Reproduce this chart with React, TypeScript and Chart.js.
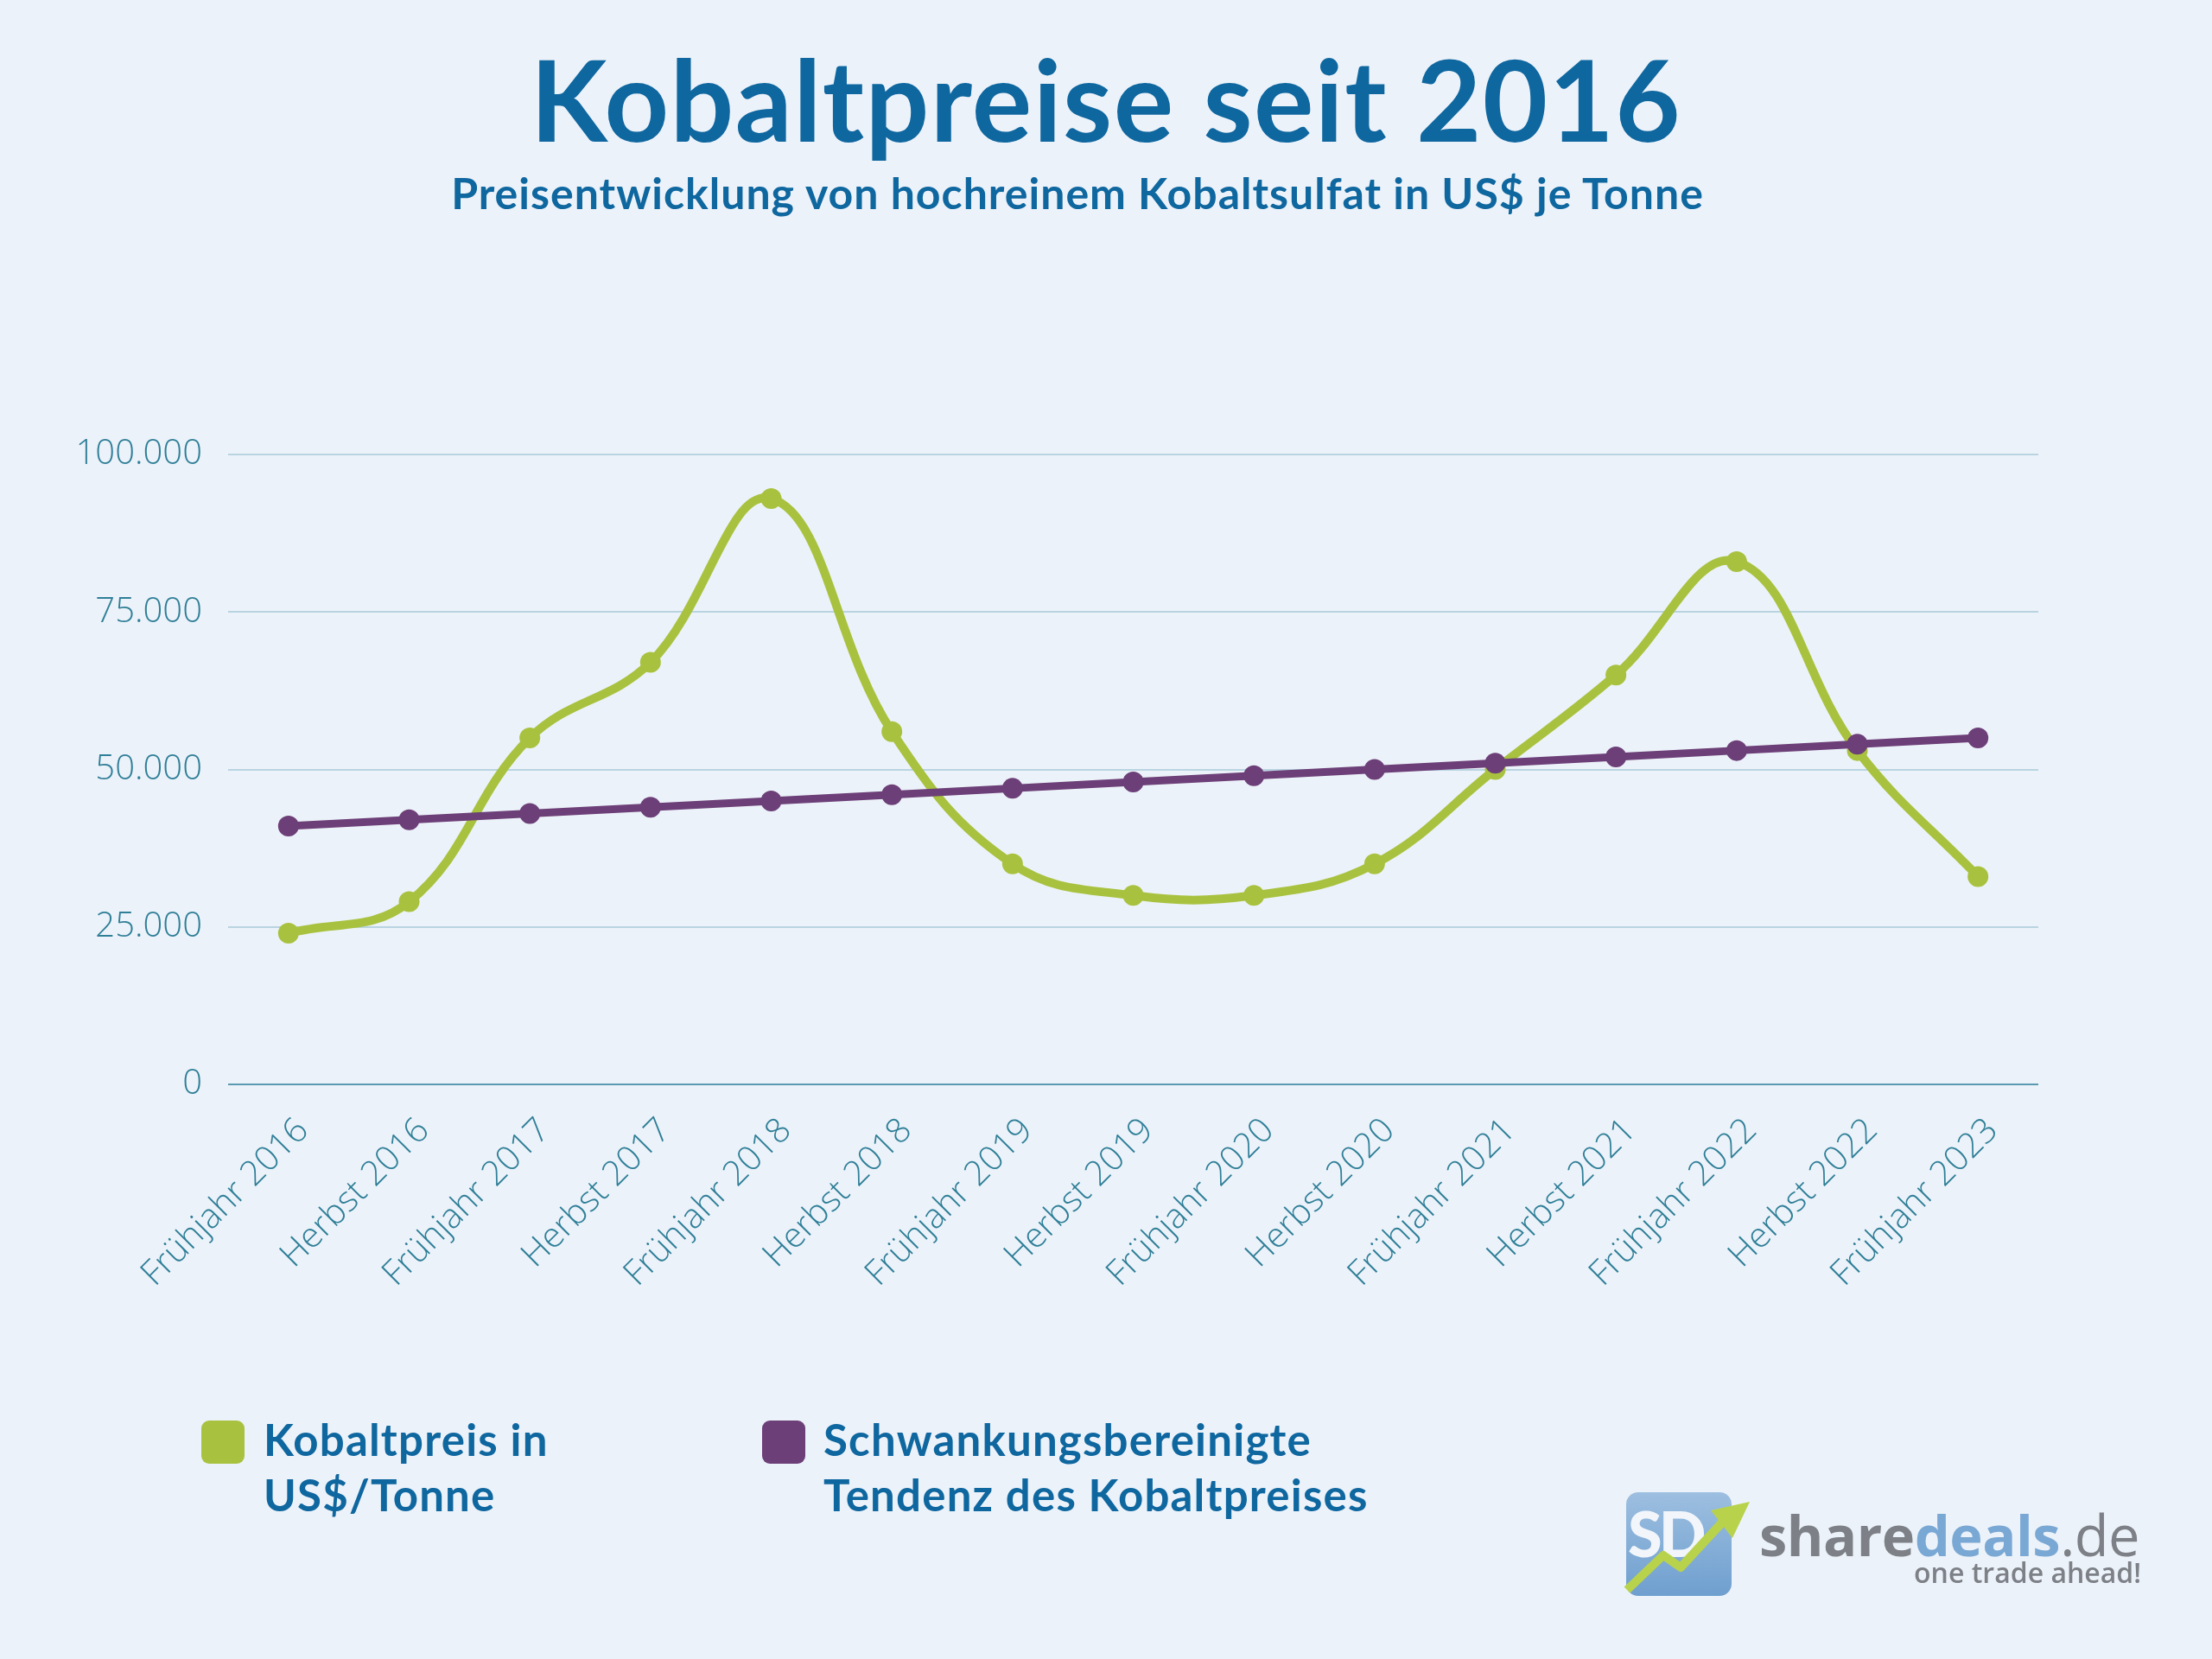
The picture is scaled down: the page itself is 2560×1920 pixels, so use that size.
import React, { useEffect, useRef } from "react";
import { Chart, registerables } from "chart.js";

Chart.register(...registerables);

const categories = [
  "Frühjahr 2016", "Herbst 2016", "Frühjahr 2017", "Herbst 2017", "Frühjahr 2018",
  "Herbst 2018", "Frühjahr 2019", "Herbst 2019", "Frühjahr 2020", "Herbst 2020",
  "Frühjahr 2021", "Herbst 2021", "Frühjahr 2022", "Herbst 2022", "Frühjahr 2023",
];
const kobaltpreis = [24000, 29000, 55000, 67000, 93000, 56000, 35000, 30000, 30000, 35000, 50000, 65000, 83000, 53000, 33000];
const tendenz = [41000, 42000, 43000, 44000, 45000, 46000, 47000, 48000, 49000, 50000, 51000, 52000, 53000, 54000, 55000];
const yTicks = [0, 25000, 50000, 75000, 100000];

const seriesNames = ["Kobaltpreis in US$/Tonne", "Schwankungsbereinigte Tendenz des Kobaltpreises"];
const titleText = "Kobaltpreise seit 2016";
const subtitleText = "Preisentwicklung von hochreinem Kobaltsulfat in US$ je Tonne";

const GREEN = "#a8c23f";
const PURPLE = "#6c3f78";
const BLUE = "#0f67a0";
const TICK = "#2f7f98";
const BG = "#ecf2f9";

const fmt = (v: number) => String(v).replace(/\B(?=(\d{3})+(?!\d))/g, ".");

export default function App() {
  const ref = useRef<HTMLCanvasElement | null>(null);

  useEffect(() => {
    document.body.style.margin = "0";
    document.body.style.background = BG;
    const canvas = ref.current!;
    const chart = new Chart(canvas, {
      type: "line",
      data: {
        labels: categories,
        datasets: [
          {
            label: seriesNames[0],
            data: kobaltpreis,
            borderColor: GREEN,
            backgroundColor: GREEN,
            borderWidth: 10,
            pointRadius: 12,
            pointBorderWidth: 0,
            pointBackgroundColor: GREEN,
            tension: 0.4,
            order: 1,
          },
          {
            label: seriesNames[1],
            data: tendenz,
            borderColor: PURPLE,
            backgroundColor: PURPLE,
            borderWidth: 9,
            pointRadius: 12,
            pointBorderWidth: 0,
            pointBackgroundColor: PURPLE,
            tension: 0,
            order: 0,
          },
        ],
      },
      options: {
        responsive: false,
        animation: false,
        devicePixelRatio: 1,
        layout: { padding: { top: 526, right: 201, bottom: 365, left: 0 } },
        plugins: {
          legend: { display: false },
          title: { display: false },
          tooltip: { enabled: false },
        },
        scales: {
          x: {
            offset: true,
            grid: { display: false, drawTicks: false },
            border: { display: false },
            ticks: {
              minRotation: 45,
              maxRotation: 45,
              padding: 30,
              labelOffset: 17,
              color: TICK,
              font: { family: "'Open Sans'", size: 40, weight: "300" },
            },
            afterFit: (s: any) => { s.height = 300; },
          },
          y: {
            min: 0,
            max: 100000,
            afterBuildTicks: (s: any) => { s.ticks = yTicks.map((v) => ({ value: v })); },
            grid: {
              drawTicks: false,
              lineWidth: 2,
              color: (c: any) => (c.tick && c.tick.value === 0 ? "#5a9ab0" : "#b8d4e1"),
            },
            border: { display: false },
            ticks: {
              padding: 30,
              color: TICK,
              font: { family: "'Open Sans'", size: 40, weight: "300" },
              callback: (v: any) => fmt(Number(v)),
            },
            afterFit: (s: any) => { s.width = 264; },
          },
        },
      },
    });
    return () => chart.destroy();
  }, []);

  const legendText: React.CSSProperties = {
    position: "absolute",
    fontFamily: "Lato, 'Open Sans', sans-serif",
    fontWeight: 700,
    fontSize: 51,
    letterSpacing: 1.2,
    lineHeight: "64px",
    color: BLUE,
  };

  return (
    <div style={{ position: "relative", width: 2560, height: 1920, background: BG, overflow: "hidden" }}>
      <canvas ref={ref} width={2560} height={1920} style={{ position: "absolute", left: 0, top: 0, width: 2560, height: 1920 }} />
      <div style={{ position: "absolute", left: 0, top: 36, width: 2560, textAlign: "center", fontFamily: "Lato, sans-serif", fontWeight: 700, fontSize: 130, letterSpacing: 1.4, lineHeight: "156px", color: BLUE }}>
        {titleText}
      </div>
      <div style={{ position: "absolute", left: -33, top: 195, width: 2560, textAlign: "center", fontFamily: "Lato, sans-serif", fontWeight: 700, fontSize: 50, letterSpacing: 1, lineHeight: "56px", color: BLUE }}>
        {subtitleText}
      </div>

      <div style={{ position: "absolute", left: 233, top: 1644, width: 50, height: 50, borderRadius: 9, background: GREEN }} />
      <div style={{ ...legendText, left: 305, top: 1634 }}>
        Kobaltpreis in<br />US$/Tonne
      </div>
      <div style={{ position: "absolute", left: 882, top: 1644, width: 50, height: 50, borderRadius: 9, background: PURPLE }} />
      <div style={{ ...legendText, left: 953, top: 1634 }}>
        Schwankungsbereinigte<br />Tendenz des Kobaltpreises
      </div>

      <div style={{ position: "absolute", left: 1882, top: 1727, width: 122, height: 120, borderRadius: 14, background: "linear-gradient(180deg,#9dbfe0,#6f9fcf)", overflow: "hidden" }}>
        <div style={{ position: "absolute", left: 2, top: 4, fontFamily: "Lato, sans-serif", fontWeight: 900, fontSize: 72, color: "#f2f6fb", letterSpacing: -4 }}>SD</div>
      </div>
      <svg width={200} height={140} style={{ position: "absolute", left: 1875, top: 1718 }}>
        <polyline points="8,122 50,82 70,96 118,44" fill="none" stroke="#b9d24c" strokeWidth={10} strokeLinejoin="round" />
        <polygon points="105,30 150,20 130,62" fill="#b9d24c" />
      </svg>
      <div style={{ position: "absolute", left: 2036, top: 1738, fontFamily: "'Open Sans', sans-serif", fontWeight: 700, fontSize: 65, lineHeight: "76px", color: "#7d8187", letterSpacing: -0.5 }}>
        share<span style={{ color: "#7aa8d4" }}>deals</span><span style={{ fontWeight: 400 }}>.de</span>
      </div>
      <div style={{ position: "absolute", right: 2560 - 2478, top: 1800, fontFamily: "'Open Sans', sans-serif", fontWeight: 600, fontSize: 32, lineHeight: "40px", color: "#7d8187" }}>
        one trade ahead!
      </div>
    </div>
  );
}
